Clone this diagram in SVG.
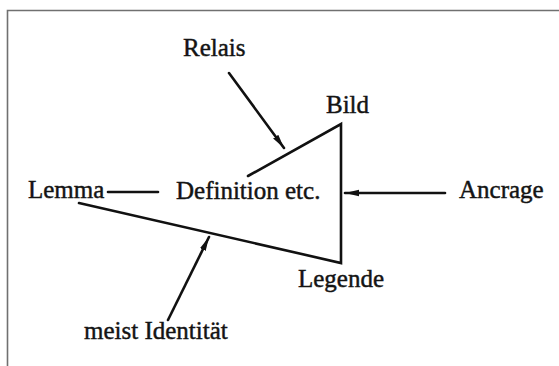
<svg xmlns="http://www.w3.org/2000/svg" width="559" height="366" viewBox="0 0 559 366">
  <defs>
    <marker id="head" markerUnits="userSpaceOnUse" markerWidth="16" markerHeight="10" refX="14" refY="4" orient="auto">
      <path d="M0,0.8 L14,4 L0,7.2 Z" fill="#111"/>
    </marker>
  </defs>
  <style>
    .lbl { font-family: "Liberation Serif", "Times New Roman", serif; font-size: 25px; fill: #141414; stroke: #141414; stroke-width: 0.45px; }
    .edge { stroke: #111; stroke-width: 2.6; fill: none; stroke-linecap: round; }
    .frame { stroke: #707070; stroke-width: 1.6; fill: none; }
  </style>
  <rect width="559" height="366" fill="#fff"/>
  <!-- page frame -->
  <path class="frame" d="M7.5,366 V10.5 H559"/>

  <g id="connectors">
    <!-- the triangle -->
    <path class="edge" d="M248,176 L341,124 L341,263 L79,203"/>
    <!-- Lemma dash -->
    <line class="edge" x1="108" y1="192" x2="158" y2="192"/>
    <!-- arrows -->
    <line class="edge" x1="229" y1="73" x2="284" y2="148" marker-end="url(#head)"/>
    <line class="edge" x1="445" y1="193" x2="345" y2="193" marker-end="url(#head)"/>
    <line class="edge" x1="168" y1="320" x2="209" y2="237" marker-end="url(#head)"/>
  </g>

  <g id="relais"><text class="lbl" x="183" y="56">Relais</text></g>
  <g id="bild"><text class="lbl" x="326" y="113">Bild</text></g>
  <g id="lemma"><text class="lbl" x="28" y="198">Lemma</text></g>
  <g id="definition"><text class="lbl" x="176" y="199">Definition etc.</text></g>
  <g id="ancrage"><text class="lbl" x="459" y="198">Ancrage</text></g>
  <g id="legende"><text class="lbl" x="298" y="287">Legende</text></g>
  <g id="identitaet"><text class="lbl" x="84" y="339">meist Identität</text></g>
</svg>
